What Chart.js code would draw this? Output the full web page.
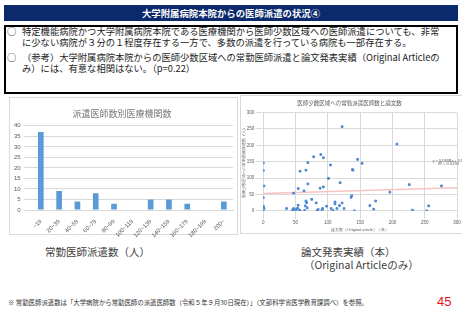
<!DOCTYPE html>
<html>
<head>
<meta charset="utf-8">
<script src="https://cdn.jsdelivr.net/npm/chart.js@4"></script>
<style>
  body { margin: 0; width: 462px; height: 320px; background: #fff; position: relative; overflow: hidden;
         font-family: "Noto Sans CJK JP", "Noto Sans", sans-serif; }
  .abs { position: absolute; white-space: nowrap; }
  #head { left: 4px; top: 5px; width: 454px; height: 16px; background: #0B2A6B; color: #fff;
          font-size: 9.4px; font-weight: bold; text-align: center; line-height: 16px; }
  #box { left: 4px; top: 25px; width: 450px; height: 65px; border: 2px solid #000; }
  .txt { font-size: 9.3px; color: #222; line-height: 10.6px; }
  .panel { border: 1px solid #d9d9d9; background: #fff; }
  .cap { font-size: 10.5px; color: #404040; }
</style>
</head>
<body>
<div class="abs" id="head">大学附属病院本院からの医師派遣の状況④</div>
<div class="abs" id="box"></div>
<div class="abs txt" style="left:7px;top:26px;">○</div>
<div class="abs txt" style="left:22px;top:26px;">特定機能病院かつ大学附属病院本院である医療機関から医師少数区域への医師派遣についても、非常<br>に少ない病院が３分の１程度存在する一方で、多数の派遣を行っている病院も一部存在する。</div>
<div class="abs txt" style="left:7px;top:52px;">○</div>
<div class="abs txt" style="left:22px;top:52px;">（参考）大学附属病院本院からの医師少数区域への常勤医師派遣と論文発表実績（Original Articleの<br>み）には、有意な相関はない。（p=0.22）</div>

<div class="abs panel" style="left:9px;top:97px;width:227px;height:136px;"></div>
<div class="abs" style="left:10px;top:98px;width:227px;height:141px;">
  <canvas id="histo"></canvas>
</div>
<div class="abs panel" style="left:240px;top:95px;width:221px;height:137px;">
  <canvas id="scatter"></canvas>
</div>

<div class="abs cap" style="left:45px;top:244px;">常勤医師派遣数（人）</div>
<div class="abs cap" style="left:301px;top:244px;">論文発表実績（本）</div>
<div class="abs cap" style="left:304px;top:257px;">（Original Articleのみ）</div>
<div class="abs" style="left:8px;top:298px;font-size:6.4px;color:#333;">※ 常勤医師派遣数は「大学病院から常勤医師の派遣医師数（令和５年９月30日現在）」（文部科学省医学教育課調べ）を参照。</div>
<div class="abs" style="left:437px;top:294px;font-size:13px;color:#e8101a;font-family:'Liberation Sans',sans-serif;">45</div>

<script>
// histogram: number of hospitals per dispatched-doctor bin
var bins = ["~19", "20~39", "40~59", "60~79", "80~99", "100~119", "120~139", "140~159", "160~179", "180~199", "200~"];
var hospitalCounts = [37, 9, 4, 8, 3, 0, 5, 5, 3, 0, 4];

// scatter: papers (x) vs full-time doctors dispatched (y)
var papers = [122, 207, 146, 153, 89, 93, 78, 104, 69, 66, 57, 139, 138, 101, 119, 69, 226, 276, 88, 93,
              54, 63, 47, 196, 137, 136, 174, 165, 171, 231, 256, 253, 141, 125, 122, 118, 111, 111, 114, 108,
              105, 98, 92, 91, 85, 83, 82, 75, 68, 67, 66, 65, 64, 54, 53, 56, 57, 51, 47, 45,
              36, 48, 0, 0, 1, 0, 0, 0, 0, 1];
var doctors = [257, 204, 157, 145, 172, 162, 165, 140, 147, 124, 121, 124, 126, 99, 86, 82, 80, 76, 69, 73,
               68, 61, 54, 57, 46, 41, 30, 16, 5, 2, 15, 0, 0, 7, 24, 16, 21, 27, 7, 1,
               7, 14, 7, 3, 4, 0, 24, 35, 9, 25, 30, 15, 1, 17, 8, 2, 0, 4, 7, 2,
               7, 0, 146, 123, 76, 40, 14, 11, 0, 7];
var trendSlope = 0.0608, trendIntercept = 52.555, trendR2 = 0.0292;
var trendRange = [0, 300];

var gridCol = "#d9d9d9", tickCol = "#595959";

new Chart(document.getElementById("histo"), {
  type: "bar",
  data: {
    labels: bins,
    datasets: [{ data: hospitalCounts, backgroundColor: "#5B9BD5", barPercentage: 0.62, categoryPercentage: 0.5 }]
  },
  options: {
    responsive: true, maintainAspectRatio: false, animation: false,
    layout: { padding: { left: 1, right: 4, top: 0, bottom: 0 } },
    plugins: {
      legend: { display: false },
      title: { display: true, text: "派遣医師数別医療機関数", color: "#767676",
               font: { size: 9, family: "Noto Sans CJK JP", weight: "normal" }, padding: { top: 10, bottom: 7 } }
    },
    scales: {
      x: { grid: { display: false }, border: { color: gridCol },
           ticks: { color: tickCol, font: { size: 5.8 }, maxRotation: 45, minRotation: 45, padding: 0 } },
      y: { min: 0, max: 40, grid: { color: gridCol }, border: { display: false },
           ticks: { stepSize: 5, color: tickCol, font: { size: 6 }, padding: 3 } }
    }
  }
});

var trendLabel = {
  id: "trendLabel",
  afterDatasetsDraw: function (chart) {
    var c = chart.ctx, xs = chart.scales.x, ys = chart.scales.y;
    c.save();
    c.font = "4px 'Noto Sans'";
    c.fillStyle = "#595959";
    c.textAlign = "left";
    c.fillText("y = " + trendSlope + "x + " + trendIntercept, xs.getPixelForValue(262), ys.getPixelForValue(150));
    c.fillText("R² = " + trendR2, xs.getPixelForValue(271), ys.getPixelForValue(140));
    c.restore();
  }
};

new Chart(document.getElementById("scatter"), {
  type: "scatter",
  data: {
    datasets: [
      { data: papers.map(function (p, i) { return { x: p, y: doctors[i] }; }),
        backgroundColor: "#4A86D0", borderColor: "#4A86D0", pointStyle: "rect", pointRadius: 1.2, order: 1 },
      { type: "line", data: trendRange.map(function (x) { return { x: x, y: trendIntercept + trendSlope * x }; }),
        borderColor: "#F6C3C3", borderWidth: 1.5, pointRadius: 0, order: 2 }
    ]
  },
  plugins: [trendLabel],
  options: {
    responsive: true, maintainAspectRatio: false, animation: false,
    layout: { padding: { left: 0, right: 4, top: 0, bottom: 0 } },
    plugins: {
      legend: { display: false },
      title: { display: true, text: "医師少数区域への常勤派遣医師数と論文数", color: tickCol,
               font: { size: 5.5, family: "Noto Sans CJK JP", weight: "normal" }, padding: { top: 4, bottom: 6 } }
    },
    scales: {
      x: { min: 0, max: 300, grid: { color: gridCol }, border: { color: gridCol },
           ticks: { stepSize: 50, color: tickCol, font: { size: 4.5 }, padding: 1 },
           title: { display: true, text: "論文数（Original article）（本）", color: tickCol, font: { size: 4 }, padding: 1 } },
      y: { min: 0, max: 300, grid: { color: gridCol }, border: { color: gridCol },
           ticks: { stepSize: 50, color: tickCol, font: { size: 4.5 }, padding: 1 },
           title: { display: true, text: "医師少数区域への常勤医師派遣数（人）", color: tickCol, font: { size: 4 }, padding: 0 } }
    }
  }
});
</script>
</body>
</html>
